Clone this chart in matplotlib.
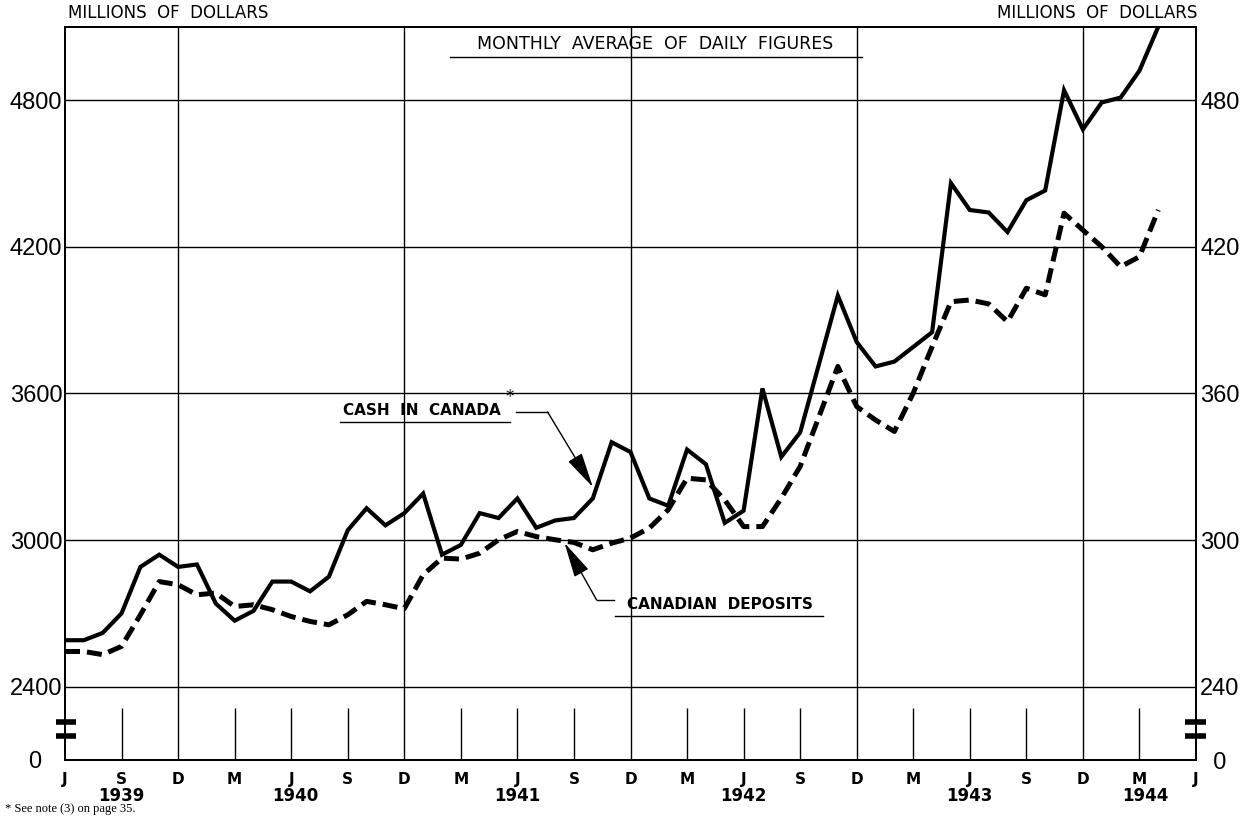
import numpy as np
import matplotlib.pyplot as plt

# ------------------------------------------------------------------
# Data: monthly average of daily figures, June 1939 .. April 1944
# (millions of dollars)
# ------------------------------------------------------------------
deposits = [2544, 2544, 2531, 2565, 2694, 2830, 2817, 2776, 2783, 2728,
            2735, 2715, 2687, 2667, 2653, 2694, 2749, 2735, 2719, 2858,
            2926, 2922, 2946, 3001, 3035, 3014, 3001, 2990, 2960, 2987,
            3008, 3049, 3124, 3253, 3246, 3164, 3055, 3055, 3171, 3301,
            3505, 3710, 3546, 3491, 3444, 3601, 3791, 3975, 3982, 3966,
            3893, 4030, 4003, 4337, 4268, 4200, 4118, 4159, 4350]
cash = [259, 259, 262, 270, 289, 294, 289, 290, 274, 267,
        271, 283, 283, 279, 285, 304, 313, 306, 311, 319,
        294, 298, 311, 309, 317, 305, 308, 309, 317, 340,
        336, 317, 314, 337, 331, 307, 312, 362, 334, 344,
        372, 400, 381, 371, 373, 379, 385, 446, 435, 434,
        426, 439, 443, 484, 468, 479, 481, 492, 510]

month_labels = ['J', 'S', 'D', 'M'] * 5 + ['J']      # every 3 months from June 1939
year_labels = ['1939', '1940', '1941', '1942', '1943', '1944']
year_pos = [3, 12.2, 24, 36, 48, 57.3]

left_ticks = [2400, 3000, 3600, 4200, 4800]
right_ticks = [240, 300, 360, 420, 480]

# scale break: "0" is drawn 300 below 2400
y_bottom, y_top = 2100, 5100
n_months = 60

num_font = ['Liberation Sans', 'DejaVu Sans']

# ------------------------------------------------------------------
fig = plt.figure(figsize=(12.47, 8.16), dpi=100)
ax = fig.add_axes([65 / 1247, 56 / 816, 1131 / 1247, 733.3 / 816])
ax2 = ax.twinx()

x = np.arange(len(deposits))
ax.plot(x, deposits, color='black', lw=3.6, linestyle=(0, (3.0, 1.4)),
        dash_capstyle='butt', zorder=3)
ax2.plot(np.arange(len(cash)), cash, color='black', lw=3.0,
         solid_joinstyle='miter', zorder=3)

ax.set_xlim(0, n_months)
ax.set_ylim(y_bottom, y_top)
ax2.set_ylim(y_bottom / 10, y_top / 10)

# grid: horizontal lines, vertical lines at each December
for v in left_ticks:
    ax.axhline(v, color='black', lw=1.0, zorder=1)
for i, lab in enumerate(month_labels):
    pos = i * 3
    if lab == 'D':
        ax.axvline(pos, color='black', lw=1.0, zorder=1)
    elif 0 < pos < n_months:
        ax.vlines(pos, y_bottom, 2313, color='black', lw=1.0, zorder=1)

for a in (ax, ax2):
    for s in a.spines.values():
        s.set_linewidth(1.3)
    a.tick_params(length=0)

ax.set_xticks([])
ax.set_yticks([y_bottom] + left_ticks)
ax.set_yticklabels(['0   '] + [str(v) for v in left_ticks], family=num_font, fontsize=17)
ax.tick_params(axis='y', pad=2)
ax2.set_yticks([y_bottom / 10] + right_ticks)
ax2.set_yticklabels(['  0'] + [str(v) for v in right_ticks], family=num_font, fontsize=17)
ax2.tick_params(axis='y', pad=3)

# month and year labels under the axis
xt = ax.get_xaxis_transform()
for i, lab in enumerate(month_labels):
    ax.text(i * 3, -0.026, lab, transform=xt, ha='center', va='center',
            fontsize=11, fontweight='bold')
for pos, yr in zip(year_pos, year_labels):
    ax.text(pos, -0.049, yr, transform=xt, ha='center', va='center',
            fontsize=12, fontweight='bold')

# scale break marks
for xs in ([-0.5, 0.6], [59.4, 60.55]):
    for yb in (2255, 2200):
        ax.plot(xs, [yb, yb], color='black', lw=4.0, solid_capstyle='butt',
                clip_on=False, zorder=5)

# headings
fig.text(68 / 1247, 1 - 13 / 816, 'MILLIONS  OF  DOLLARS', fontsize=12,
         ha='left', va='center')
fig.text(1197 / 1247, 1 - 13 / 816, 'MILLIONS  OF  DOLLARS', fontsize=12,
         ha='right', va='center')
ax.text(31.3, 5030, 'MONTHLY  AVERAGE  OF  DAILY  FIGURES', fontsize=12.5,
        ha='center', va='center')
ax.plot([20.4, 42.3], [4976, 4976], color='black', lw=1.0)

arrow = dict(arrowstyle='-|>,head_length=1.1,head_width=0.25', mutation_scale=20,
             color='black', lw=1.0, shrinkA=0, shrinkB=0)

# series labels with leaders
ax.text(14.75, 3530, 'CASH  IN  CANADA', fontsize=11, fontweight='bold',
        ha='left', va='center')
ax.text(23.6, 3585, '*', fontsize=12, ha='center', va='center')
ax.plot([14.6, 23.6], [3483, 3483], color='black', lw=1.0)
ax.plot([23.9, 25.6], [3524, 3524], color='black', lw=1.0)
ax.annotate('', xy=(28.0, 3217), xytext=(25.6, 3524), arrowprops=arrow)

ax.text(29.8, 2738, 'CANADIAN  DEPOSITS', fontsize=11, fontweight='bold',
        ha='left', va='center')
ax.plot([29.2, 40.2], [2689, 2689], color='black', lw=1.0)
ax.plot([28.2, 29.1], [2755, 2755], color='black', lw=1.0)
ax.annotate('', xy=(26.5, 2988), xytext=(28.2, 2755), arrowprops=arrow)

fig.text(5 / 1247, 1 - 815 / 816, '* See note (3) on page 35.', fontsize=9,
         family=['Liberation Serif', 'DejaVu Serif'], ha='left', va='bottom')

fig.savefig('out.png', dpi=100)
